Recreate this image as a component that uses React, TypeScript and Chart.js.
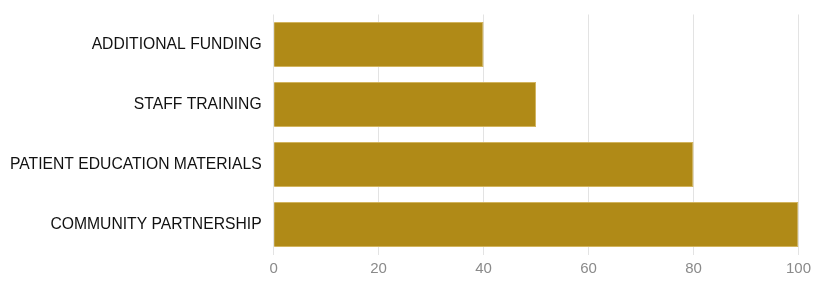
import React, { useEffect, useRef } from "react";
import { Chart, registerables } from "chart.js";

Chart.register(...registerables);

const categories = [
  "ADDITIONAL FUNDING",
  "STAFF TRAINING",
  "PATIENT EDUCATION MATERIALS",
  "COMMUNITY PARTNERSHIP",
];
const values = [40, 50, 80, 100];
const xTicks = [0, 20, 40, 60, 80, 100];

export default function App() {
  const ref = useRef<HTMLCanvasElement | null>(null);
  useEffect(() => {
    if (!ref.current) return;
    const chart = new Chart(ref.current, {
      type: "bar",
      data: {
        labels: categories,
        datasets: [
          {
            data: values,
            backgroundColor: "#B08A17",
            borderColor: "#D2B45E",
            borderWidth: 1,
            barPercentage: 0.75,
            categoryPercentage: 1,
          },
        ],
      },
      options: {
        indexAxis: "y",
        animation: false,
        responsive: true,
        maintainAspectRatio: false,
        layout: { padding: { top: 0, right: 4, left: 2, bottom: 0 } },
        plugins: { legend: { display: false }, tooltip: { enabled: false } },
        scales: {
          x: {
            min: xTicks[0],
            max: xTicks[xTicks.length - 1],
            afterBuildTicks: (axis: any) => {
              axis.ticks = xTicks.map((v) => ({ value: v }));
            },
            grid: {
              color: "#E3E3E3",
              drawTicks: true,
              tickLength: 2.5,
              tickColor: "rgba(0,0,0,0)",
            },
            border: { display: false },
            ticks: {
              color: "#8A8A8A",
              padding: 3,
              font: { family: "'Liberation Sans', Arial, sans-serif", size: 15 },
            },
          },
          y: {
            grid: {
              display: true,
              drawOnChartArea: false,
              drawTicks: true,
              tickLength: 12,
              tickColor: "rgba(0,0,0,0)",
            },
            border: { display: false },
            ticks: {
              color: "#111",
              padding: 0,
              font: {
                family: "'Liberation Sans', Arial, sans-serif",
                size: 15.7,
                lineHeight: 0.83,
              },
            },
          },
        },
      },
    });
    return () => chart.destroy();
  }, []);
  return (
    <div style={{ width: 806, height: 273, position: "relative" }}>
      <canvas ref={ref} style={{ display: "block" }} />
    </div>
  );
}
